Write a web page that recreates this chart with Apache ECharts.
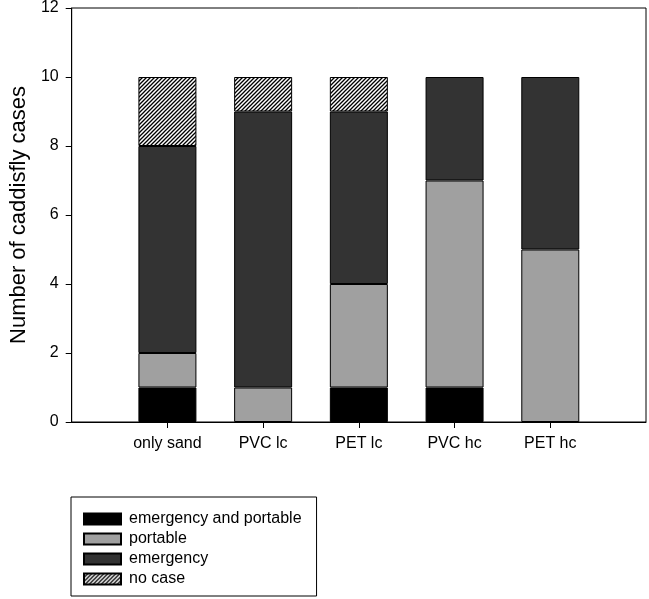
<!DOCTYPE html>
<html>
<head>
<meta charset="utf-8">
<script src="https://cdn.jsdelivr.net/npm/echarts@6/dist/echarts.min.js"></script>
<style>html,body{margin:0;padding:0;background:#fff}#c{width:649px;height:599px}</style>
</head>
<body>
<div id="c"></div>
<script>
var categories = ['only sand', 'PVC lc', 'PET lc', 'PVC hc', 'PET hc'];
var emergencyAndPortable = [1, 0, 1, 1, 0];
var portable = [1, 1, 3, 6, 5];
var emergency = [6, 8, 5, 3, 5];
var noCase = [2, 1, 1, 0, 0];
var yTicks = [0, 2, 4, 6, 8, 10, 12];

// hatch pattern
var tile = document.createElement('canvas');
var s = 4;
tile.width = s; tile.height = s;
var g = tile.getContext('2d');
g.fillStyle = '#fff'; g.fillRect(0, 0, s, s);
g.strokeStyle = '#000'; g.lineWidth = 1.3;
g.beginPath();
g.moveTo(-1, s + 1); g.lineTo(s + 1, -1);
g.moveTo(-1, 1); g.lineTo(1, -1);
g.moveTo(s - 1, s + 1); g.lineTo(s + 1, s - 1);
g.stroke();
var hatch = { image: tile, repeat: 'repeat' };

var xCats = [''].concat(categories).concat(['']);
function pad(a) {
  return ['-'].concat(a.map(function (v) { return v === 0 ? '-' : v; })).concat(['-']);
}

var font = 'Liberation Sans, Arial, sans-serif';
var border = { borderColor: '#000', borderWidth: 1 };

function mk(name, data, color) {
  return {
    name: name, type: 'bar', stack: 'all', barWidth: 58,
    data: pad(data),
    itemStyle: Object.assign({ color: color }, border),
    emphasis: { disabled: true }
  };
}

var chart = echarts.init(document.getElementById('c'), null, { renderer: 'canvas' });
chart.setOption({
  animation: false,
  backgroundColor: '#fff',
  textStyle: { fontFamily: font, color: '#000' },
  grid: { left: 71, right: 2, top: 7, bottom: 177, show: true, borderColor: '#000', borderWidth: 1, backgroundColor: 'transparent' },
  legend: {
    orient: 'vertical', left: 71, top: 497, height: 300,
    padding: [14, 15, 9, 12],
    icon: 'rect',
    itemWidth: 37, itemHeight: 11, itemGap: 4,
    borderColor: '#000', borderWidth: 1,
    textStyle: { fontFamily: font, fontSize: 16, lineHeight: 16, color: '#000', padding: [0, 0, 0, 3] },
    selectedMode: false,
    data: ['emergency and portable', 'portable', 'emergency', 'no case']
  },
  xAxis: {
    type: 'category', data: xCats, boundaryGap: false,
    axisLine: { lineStyle: { color: '#000', width: 1 } },
    axisTick: { length: 6, lineStyle: { color: '#000' }, interval: function (i) { return i > 0 && i < xCats.length - 1; } },
    axisLabel: { interval: 0, margin: 14, fontSize: 16, color: '#000', fontFamily: font }
  },
  yAxis: {
    type: 'value', min: 0, max: 12, interval: 2,
    name: 'Number of caddisfly cases', nameLocation: 'middle', nameGap: 40,
    nameTextStyle: { fontSize: 22, color: '#000', fontFamily: font },
    axisLine: { show: true, lineStyle: { color: '#000', width: 1 } },
    axisTick: { show: true, length: 6, lineStyle: { color: '#000' } },
    axisLabel: { margin: 13, fontSize: 16, color: '#000', fontFamily: font,
      formatter: function (v) { return yTicks.indexOf(v) >= 0 ? String(v) : ''; } },
    splitLine: { show: false }
  },
  series: [
    mk('emergency and portable', emergencyAndPortable, '#000000'),
    mk('portable', portable, '#a0a0a0'),
    mk('emergency', emergency, '#333333'),
    mk('no case', noCase, hatch)
  ]
});
</script>
</body>
</html>
